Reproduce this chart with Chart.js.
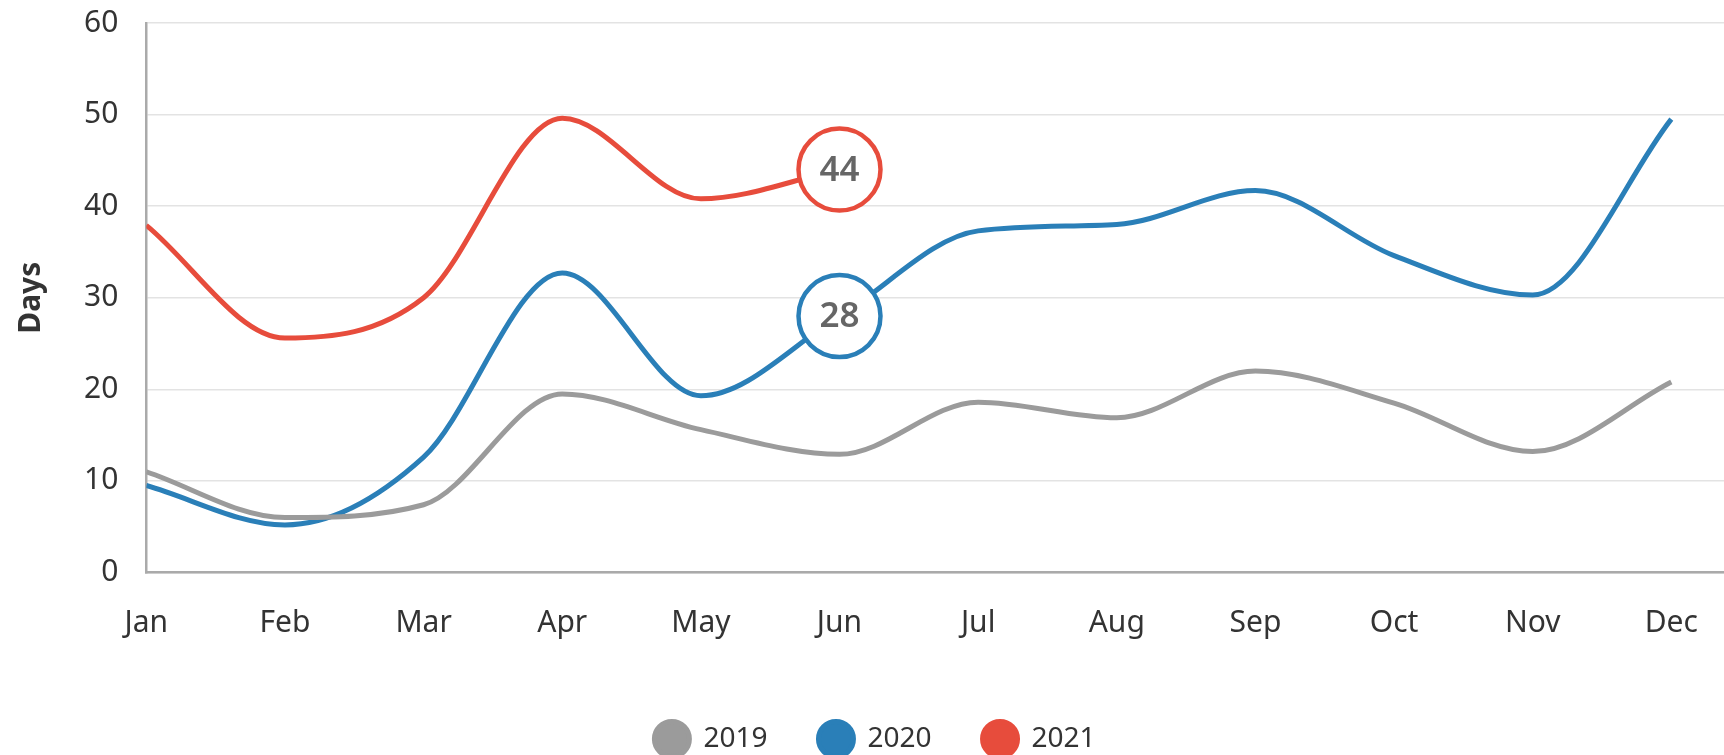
<!DOCTYPE html>
<html>
<head>
<meta charset="utf-8">
<script src="https://cdn.jsdelivr.net/npm/chart.js@4/dist/chart.umd.min.js"></script>
<style>
  html, body { margin: 0; padding: 0; background: #fff; }
  #wrap { width: 1724px; height: 755px; position: relative; }
</style>
</head>
<body>
<div id="wrap"><canvas id="daysChart"></canvas></div>
<script>
var months = ['Jan', 'Feb', 'Mar', 'Apr', 'May', 'Jun', 'Jul', 'Aug', 'Sep', 'Oct', 'Nov', 'Dec'];
var days2019 = [11, 6, 7.4, 19.5, 15.6, 12.9, 18.6, 16.9, 22, 18.5, 13.2, 20.8];
var days2020 = [9.5, 5.2, 12.6, 32.7, 19.3, 28, 37.3, 38, 41.7, 34.6, 30.3, 49.5];
var days2021 = [37.9, 25.6, 30, 49.6, 40.8, 44];
var yTicks = [0, 10, 20, 30, 40, 50, 60];
var calloutIndex = 5; // Jun values are circled

var FONT = '"Noto Sans", sans-serif';
var GREY = '#9b9b9b', BLUE = '#2a7fb8', RED = '#e74c3c';

function toPoints(arr) {
    return arr.map(function (v, i) { return { x: i, y: v }; });
}
function radii(arr, circled) {
    return arr.map(function (v, i) { return (circled && i === calloutIndex) ? 41 : 0; });
}
function fills(arr, color, circled) {
    return arr.map(function (v, i) { return (circled && i === calloutIndex) ? '#ffffff' : color; });
}

function makeSet(label, arr, color, circled) {
    return {
        label: label,
        data: toPoints(arr),
        borderColor: color,
        backgroundColor: color,
        borderWidth: 5,
        cubicInterpolationMode: 'monotone',
        pointRadius: radii(arr, circled),
        pointHoverRadius: radii(arr, circled),
        pointBackgroundColor: fills(arr, color, circled),
        pointBorderColor: color,
        pointBorderWidth: 4.5,
        circled: circled
    };
}

// writes the value inside the circled points
var calloutText = {
    id: 'calloutText',
    afterDatasetsDraw: function (chart) {
        var ctx = chart.ctx;
        ctx.save();
        ctx.font = '600 35px ' + FONT;
        ctx.fillStyle = '#666666';
        ctx.textAlign = 'center';
        ctx.textBaseline = 'middle';
        chart.data.datasets.forEach(function (ds, di) {
            if (!ds.circled) return;
            var pt = chart.getDatasetMeta(di).data[calloutIndex];
            if (!pt) return;
            ctx.fillText(String(ds.data[calloutIndex].y), pt.x, pt.y + 1);
        });
        ctx.restore();
    }
};

new Chart(document.getElementById('daysChart').getContext('2d'), {
    type: 'line',
    data: {
        datasets: [
            makeSet('2019', days2019, GREY, false),
            makeSet('2020', days2020, BLUE, true),
            makeSet('2021', days2021, RED, true)
        ]
    },
    options: {
        responsive: true,
        maintainAspectRatio: false,
        animation: false,
        events: [],
        layout: { autoPadding: false, padding: { left: 26, right: 0, top: 0, bottom: -11.5 } },
        plugins: {
            legend: {
                position: 'bottom',
                labels: {
                    // round boxes instead of point style so the gap to the text can grow
                    usePointStyle: false,
                    useBorderRadius: true,
                    borderRadius: 17.5,
                    boxWidth: 35,
                    boxHeight: 35,
                    color: '#333333',
                    font: { family: FONT, size: 28 },
                    padding: 51
                }
            },
            tooltip: { enabled: false }
        },
        scales: {
            x: {
                type: 'linear',
                min: 0,
                max: 11.38,
                grid: { display: false, drawTicks: false },
                border: { color: '#aaaaaa', width: 2.5 },
                afterFit: function (scale) {
                    scale.height -= 4;
                    scale.paddingLeft = 0;
                    scale.paddingRight = 0;
                },
                ticks: {
                    stepSize: 1,
                    includeBounds: false,
                    autoSkip: false,
                    maxRotation: 0,
                    padding: 33,
                    color: '#333333',
                    font: { family: FONT, size: 30 },
                    callback: function (value) {
                        return months[value] !== undefined ? months[value] : '';
                    }
                }
            },
            y: {
                min: yTicks[0],
                max: yTicks[yTicks.length - 1],
                grid: { color: '#e3e3e3', lineWidth: 1.5, drawTicks: false },
                border: { color: '#aaaaaa', width: 2.5 },
                afterFit: function (scale) { scale.paddingTop = 23; },
                title: {
                    display: true,
                    text: 'Days',
                    color: '#333333',
                    font: { family: FONT, size: 30, weight: 'bold' },
                    padding: { top: -13, bottom: 7 }
                },
                ticks: {
                    stepSize: 10,
                    padding: 28,
                    color: '#333333',
                    font: { family: FONT, size: 30 }
                }
            }
        }
    },
    plugins: [calloutText]
});
</script>
</body>
</html>
